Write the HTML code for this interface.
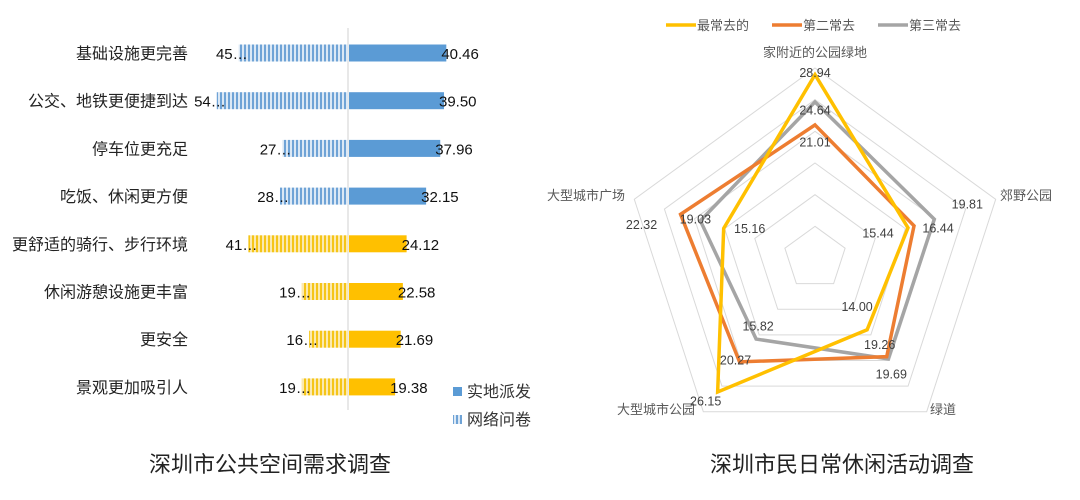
<!DOCTYPE html>
<html><head><meta charset="utf-8"><style>
body{margin:0;background:#fff;}
svg text{font-family:"Liberation Sans","Noto Sans CJK SC",sans-serif;}
</style></head><body>
<svg id="s" width="1080" height="495" viewBox="0 0 1080 495" xmlns="http://www.w3.org/2000/svg">
<defs>
<pattern id="pb" width="4" height="10" patternUnits="userSpaceOnUse"><rect width="4" height="10" fill="#dbe8f5"/><rect width="2" height="10" fill="#6fa3d6"/></pattern>
<pattern id="py" width="4" height="10" patternUnits="userSpaceOnUse"><rect width="4" height="10" fill="#fbe9b0"/><rect width="2" height="10" fill="#f5c518"/></pattern>
</defs>
<g id="left"></g>
<g id="right"></g>
<text x="270" y="472" font-size="22" text-anchor="middle" fill="#222">深圳市公共空间需求调查</text>
<text x="842" y="472" font-size="22" text-anchor="middle" fill="#222">深圳市民日常休闲活动调查</text>
</svg>
<script>
const categories=["基础设施更完善","公交、地铁更便捷到达","停车位更充足","吃饭、休闲更方便","更舒适的骑行、步行环境","休闲游憩设施更丰富","更安全","景观更加吸引人"];
const onsiteValues=[40.46,39.50,37.96,32.15,24.12,22.58,21.69,19.38];
const onlineValues=[45,54,27,28,41,19,16,19];
const onlineLabels=["45…","54…","27…","28…","41…","19…","16…","19…"];
const radarAxes=["家附近的公园绿地","郊野公园","绿道","大型城市公园","大型城市广场"];
const seriesNames=["最常去的","第二常去","第三常去"];
const mostVisited=[28.94,15.44,14.00,26.15,15.16];
const secondVisited=[21.01,16.44,19.26,20.27,22.32];
const thirdVisited=[24.64,19.81,19.69,15.82,19.03];
const radarMax=30;

const NS="http://www.w3.org/2000/svg";
function mk(tag,attrs,parent,text){const e=document.createElementNS(NS,tag);for(const k in attrs)e.setAttribute(k,attrs[k]);if(text!==undefined)e.textContent=text;parent.appendChild(e);return e;}

// ---- bar chart ----
const L=document.getElementById('left');
const axisX=348, scale=2.43, row0=53, rowStep=47.7, barH=17;
const xR=v=>axisX+v*scale, xL=v=>axisX-v*scale, yRow=i=>row0+i*rowStep;
let ax=mk('line',{x1:axisX,y1:28,x2:axisX,y2:410,stroke:'#d0d0d0','stroke-width':1},L);

categories.forEach((c,i)=>{
  const y=yRow(i), blue=i<4;
  let t=mk('text',{x:188,y:y+6,'font-size':16,'text-anchor':'end',fill:'#222'},L,c);
  
  let b1=mk('rect',{x:xL(onlineValues[i]),y:y-barH/2,width:axisX-xL(onlineValues[i]),height:barH,fill:blue?'url(#pb)':'url(#py)'},L);
  
  let b2=mk('rect',{x:axisX+1,y:y-barH/2,width:xR(onsiteValues[i])-axisX-1,height:barH,fill:blue?'#5b9bd5':'#ffc000'},L);
  
  let v1=mk('text',{x:xR(onsiteValues[i])-5,y:y+6,'font-size':15,fill:'#111'},L,onsiteValues[i].toFixed(2));
  
  let v2=mk('text',{x:xL(onlineValues[i])+9,y:y+6,'font-size':15,'text-anchor':'end',fill:'#111'},L,onlineLabels[i]);
  
});
let lg1=mk('rect',{x:453,y:387,width:9,height:9,fill:'#5b9bd5'},L);

let lt1=mk('text',{x:467,y:397,'font-size':16,fill:'#333'},L,'实地派发');

let lg2=mk('rect',{x:453,y:415,width:9,height:9,fill:'url(#pb)'},L);

let lt2=mk('text',{x:467,y:425,'font-size':16,fill:'#333'},L,'网络问卷');


// ---- radar ----
const R=document.getElementById('right');
const cx=815, cy=258, rMax=190;
const ang=i=>-Math.PI/2+i*2*Math.PI/5;
const pt=(i,v)=>[cx+Math.cos(ang(i))*v/radarMax*rMax, cy+Math.sin(ang(i))*v/radarMax*rMax];
for(let k=1;k<=6;k++){
  const v=k*radarMax/6;
  let g=mk('polygon',{points:[0,1,2,3,4].map(i=>pt(i,v).join(',')).join(' '),fill:'none',stroke:'#d9d9d9','stroke-width':1},R);
  
}
const axisLabelPos=[[815,57,'middle'],[1000,200,'start'],[930,414,'start'],[617,414,'start'],[547,200,'start']];
radarAxes.forEach((a,i)=>{
  let t=mk('text',{x:axisLabelPos[i][0],y:axisLabelPos[i][1],'font-size':13,'text-anchor':axisLabelPos[i][2],fill:'#595959'},R,a);
  
});
const colors=['#ffc000','#ed7d31','#a5a5a5'];
const all=[mostVisited,secondVisited,thirdVisited];
[2,1,0].forEach(s=>{
  let p=mk('polygon',{points:all[s].map((v,i)=>pt(i,v).join(',')).join(' '),fill:'none',stroke:colors[s],'stroke-width':3.5,'stroke-linejoin':'miter'},R);
  
});
// label offsets [series][axis] = [dx,dy] relative to data point (styling only)
const labelOffsets=[
  [[0,-2],[-30,5],[-10,-23],[-12,9],[26,0]],
  [[0,17],[24,2],[-7,-12],[-4,-2],[-39,10]],
  [[0,8],[33,-15],[3,15],[2,-13],[-5,-2]]
];
all.forEach((ser,s)=>ser.forEach((v,i)=>{
  const [x,y]=pt(i,v);
  const o=labelOffsets[s][i];
  let t=mk('text',{x:x+o[0],y:y+o[1]+4.5,'font-size':12.5,'text-anchor':'middle',fill:'#404040'},R,v.toFixed(2));
  
}));
// legend
const lx=[666,772,878];
seriesNames.forEach((n,s)=>{
  let l=mk('line',{x1:lx[s],y1:25,x2:lx[s]+30,y2:25,stroke:colors[s],'stroke-width':3.5},R);
  
  let t=mk('text',{x:lx[s]+31,y:30,'font-size':13,fill:'#595959'},R,n);
  
});
</script>
</body></html>
